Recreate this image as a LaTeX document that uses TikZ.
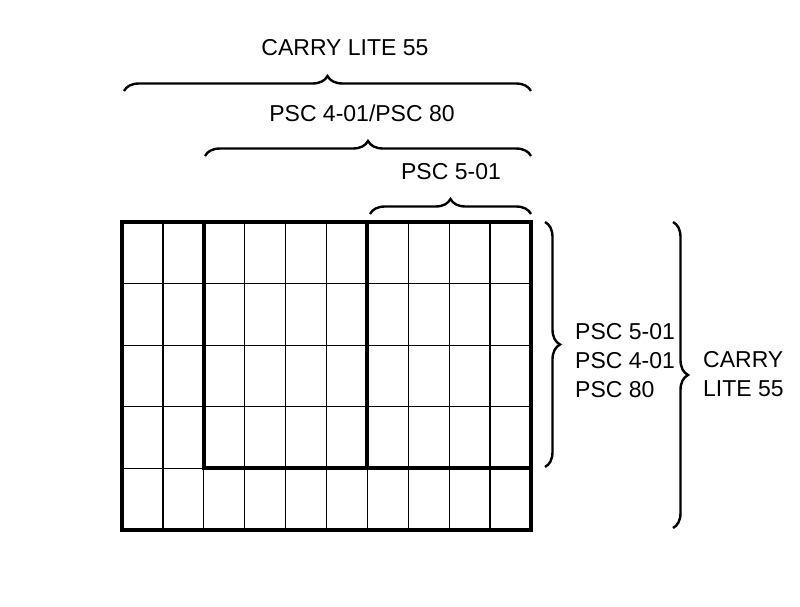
\documentclass[tikz,border=0pt]{standalone}
\usepackage{fontspec}
\setmainfont{Liberation Sans}
\usetikzlibrary{decorations.pathreplacing}
\begin{document}
\begin{tikzpicture}[x=1pt,y=-1pt,
  thin grid/.style={line width=1.3pt},
  thick grid/.style={line width=4pt},
  br/.style={line width=2.4pt,decorate,decoration={brace,amplitude=15pt}},
  lbl/.style={font=\fontsize{23}{29}\selectfont,align=left,inner sep=0pt}]
\useasboundingbox (0,0) rectangle (800,607);
\foreach \i in {1,...,9} \draw[thin grid] ({122+\i*40.9},222) -- ({122+\i*40.9},530);
\foreach \j in {1,...,4} \draw[thin grid] (122,{222+\j*61.6}) -- (531,{222+\j*61.6});
\draw[thick grid] (122,222) rectangle (531,530);
\draw[thick grid] (203.8,222) -- (203.8,468.4) -- (531,468.4);
\draw[thick grid] (367.4,222) -- (367.4,468.4);
\coordinate (a1) at (124,91); \coordinate (a2) at (531,91);
\coordinate (b1) at (205,156); \coordinate (b2) at (531,156);
\coordinate (c1) at (370,214); \coordinate (c2) at (531,214);
\coordinate (d1) at (545,222); \coordinate (d2) at (545,467);
\coordinate (e1) at (673,222); \coordinate (e2) at (673,528);
\draw[br] (a1) -- (a2);
\draw[br] (b1) -- (b2);
\draw[br] (c1) -- (c2);
\draw[br] (d1) -- (d2);
\draw[br] (e1) -- (e2);
\node[lbl] (t1) at (345,48) {CARRY LITE 55};
\node[lbl] (t2) at (362,113) {PSC 4-01/PSC 80};
\node[lbl] (t3) at (451,172) {PSC 5-01};
\node[lbl,anchor=west] (t4) at (575,361) {PSC 5-01\\PSC 4-01\\PSC 80};
\node[lbl,anchor=west] (t5) at (703,374) {CARRY\\LITE 55};
\end{tikzpicture}
\end{document}
